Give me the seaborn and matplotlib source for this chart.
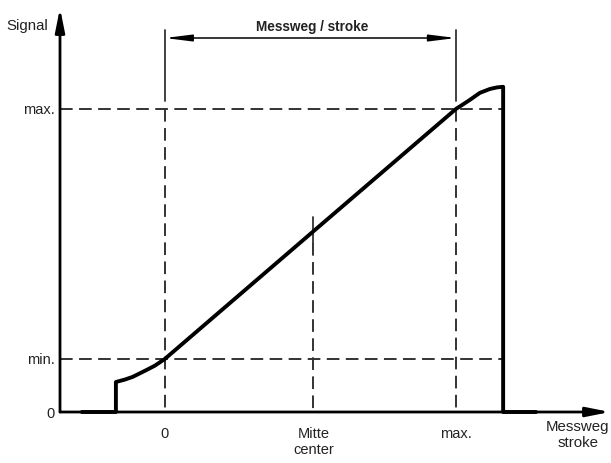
import matplotlib
matplotlib.use("Agg")
import matplotlib.pyplot as plt
import seaborn as sns
import pandas as pd

# Signal curve (stroke in %, signal in %)
stroke = [-28.5, -16.8, -16.8, -13.7, -11.0, -6.2, -3.4, 0, 51, 100,
          102.1, 104.8, 108.2, 111.7, 114.1, 116.2, 116.2, 127.5]
signal = [0, 0, 9.9, 10.7, 11.6, 13.9, 15.3, 17.5, 59.6, 100,
          101.3, 103.0, 105.3, 106.6, 107.1, 107.3, 0, 0]

# reference levels / positions
stroke_ticks = [0, 51, 100]
stroke_labels = ['0', 'Mitte\ncenter', 'max.']
signal_ticks = [0, 17.5, 100]
signal_labels = ['0', 'min.', 'max.']
stroke_end = 116.2

df = pd.DataFrame({'stroke': stroke, 'signal': signal})

sns.set_style("white")
plt.rcParams['font.family'] = ['Liberation Sans', 'DejaVu Sans']

fig = plt.figure(figsize=(6.11, 4.63), dpi=100)
ax = fig.add_axes([60 / 611, 51 / 463, 550 / 611, 404 / 463])
ax.set_xlim(-36, 152.9)
ax.set_ylim(0, 133.3)
for s in ax.spines.values():
    s.set_visible(False)

dash = dict(color='#333333', lw=1.4, linestyle=(0, (6.5, 3.3)))

# horizontal reference lines (min / max)
for yv in signal_ticks[1:]:
    ax.plot([-36, stroke_end], [yv, yv], clip_on=False, **dash)

# vertical lines at 0 and max (solid extension above, dashed below)
for xv in [stroke_ticks[0], stroke_ticks[2]]:
    ax.plot([xv, xv], [126, 102.5], color='#333333', lw=1.3)
    ax.plot([xv, xv], [100, 0], **dash)

# center line
c_y = signal[stroke.index(stroke_ticks[1])]
ax.plot([stroke_ticks[1], stroke_ticks[1]], [c_y + 4.8, c_y - 3.8], color='#333333', lw=1.3)
ax.plot([stroke_ticks[1], stroke_ticks[1]], [c_y - 3.8, 0], **dash)

# signal curve
sns.lineplot(data=df, x='stroke', y='signal', sort=False, estimator=None,
             color='black', lw=2.8, ax=ax, clip_on=False)

# axes with arrows
ax.annotate('', xy=(152.9, 0), xytext=(-36, 0), annotation_clip=False,
            arrowprops=dict(arrowstyle='-|>,head_length=1.4,head_width=0.28',
                            color='black', lw=2.0, shrinkA=0, shrinkB=0))
ax.annotate('', xy=(-36, 133.3), xytext=(-36, 0), annotation_clip=False,
            arrowprops=dict(arrowstyle='-|>,head_length=1.4,head_width=0.28',
                            color='black', lw=2.0, shrinkA=0, shrinkB=0))

# stroke dimension arrow
ax.annotate('', xy=(stroke_ticks[2], 123.4), xytext=(stroke_ticks[0], 123.4),
            annotation_clip=False,
            arrowprops=dict(arrowstyle='<|-|>,head_length=1.6,head_width=0.2',
                            color='black', lw=1.1, shrinkA=0, shrinkB=0))
ax.text(stroke_ticks[1] - 0.5, 124.6, 'Messweg / stroke', ha='center', va='bottom',
        fontsize=9.8, fontweight='bold', color='#222222')

# tick labels
ax.set_xticks(stroke_ticks, stroke_labels)
ax.set_yticks(signal_ticks, signal_labels)
ax.tick_params(axis='x', length=0, pad=11, labelsize=10.5, colors='#222222')
ax.tick_params(axis='y', length=0, pad=4, labelsize=10.5, colors='#222222')
ax.set_xlabel('')
ax.set_ylabel('')

ax.text(-0.022, 0.955, 'Signal', transform=ax.transAxes, ha='right', va='center',
        fontsize=10.8, color='#222222')
ax.text(141.9, -2.5, 'Messweg\nstroke', ha='center', va='top', fontsize=10.8,
        color='#222222', linespacing=1.2)

fig.savefig('out.png', dpi=100, facecolor='white')
